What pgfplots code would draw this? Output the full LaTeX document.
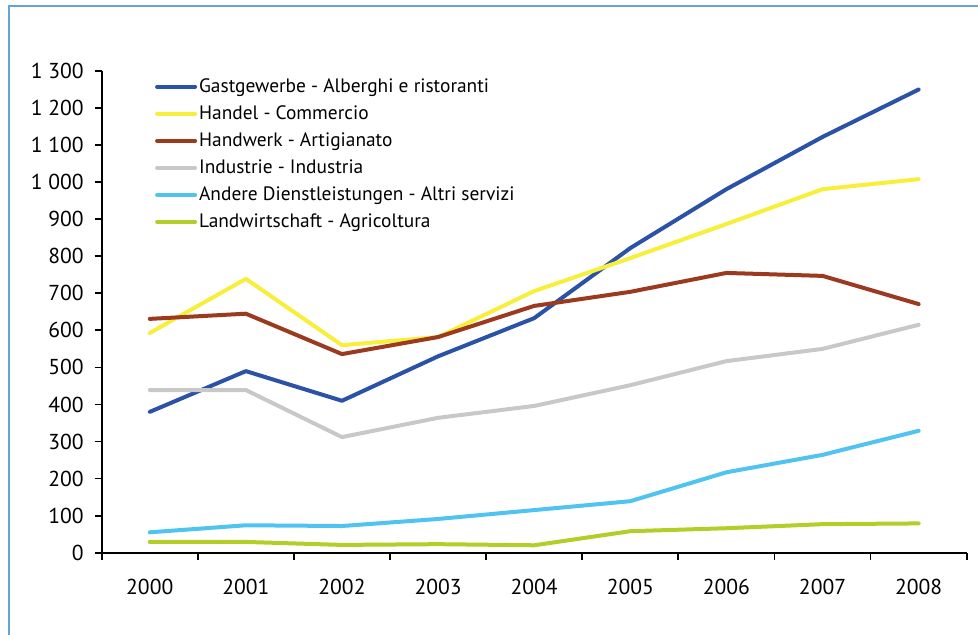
\documentclass[border=0pt]{standalone}
\usepackage{fontspec}
\setmainfont{PT Sans}
\usepackage{pgfplots}
\pgfplotsset{compat=1.18}
\definecolor{cBlue}{RGB}{42,82,166}
\definecolor{cYellow}{RGB}{248,238,60}
\definecolor{cBrown}{RGB}{155,58,30}
\definecolor{cGrey}{RGB}{200,200,200}
\definecolor{cCyan}{RGB}{80,195,240}
\definecolor{cGreen}{RGB}{180,205,40}
\definecolor{frameblue}{RGB}{100,165,215}
\begin{document}
\fontsize{10}{12}\selectfont
\begin{tikzpicture}[x=1pt,y=1pt]
\useasboundingbox (-50.85,-41.15) rectangle (438.15,276.35);
\draw[color=frameblue, line width=0.6pt] (-46.35,-80) rectangle (480,273.35);
\begin{axis}[at={(0,0)}, anchor=south west, scale only axis,
  width=432.5pt, height=240.85pt,
  xmin=-0.5, xmax=8.5, ymin=0, ymax=1300,
  axis x line*=bottom, axis y line*=left,
  axis line style={black, line width=0.9pt},
  every tick/.style={black, line width=0.9pt},
  tick align=outside,
  xtick={0,...,8},
  xticklabels={2000,2001,2002,2003,2004,2005,2006,2007,2008},
  minor xtick={-0.5,0.5,...,8.5},
  major x tick style={draw=none},
  major tick length=3.5pt,
  minor tick length=3.5pt,
  ytick={0,100,...,1300},
  /pgf/number format/assume math mode=true,
  /pgf/number format/1000 sep={\ },
  xticklabel style={font=\fontsize{10.8}{12}\selectfont, yshift=-6pt},
  yticklabel style={font=\fontsize{10.8}{12}\selectfont, xshift=-2pt},
  legend style={at={(rel axis cs:0.0613,1)}, anchor=north west, draw=none, fill=none,
    inner sep=0pt, yshift=-2pt, font=\fontsize{9.7}{12}\selectfont,
    nodes={inner sep=1pt, text height=7.5pt, text depth=2pt},
    row sep=2pt},
  legend cell align=left,
  legend image code/.code={\draw[#1,line cap=round] (0pt,0pt) -- (19pt,0pt);},
  every axis plot/.append style={line width=2pt, line join=round, line cap=round},
]
\addplot[cBlue] coordinates {(0,380)(1,490)(2,410)(3,530)(4,633)(5,822)(6,981)(7,1122)(8,1250)};
\addlegendentry{Gastgewerbe - Alberghi e ristoranti}
\addplot[cYellow] coordinates {(0,593)(1,739)(2,560)(3,582)(4,706)(5,795)(6,887)(7,981)(8,1008)};
\addlegendentry{Handel - Commercio}
\addplot[cBrown] coordinates {(0,631)(1,645)(2,536)(3,582)(4,666)(5,704)(6,755)(7,747)(8,671)};
\addlegendentry{Handwerk - Artigianato}
\addplot[cGrey] coordinates {(0,439)(1,439)(2,312)(3,364)(4,396)(5,452)(6,517)(7,550)(8,615)};
\addlegendentry{Industrie - Industria}
\addplot[cCyan] coordinates {(0,55)(1,74)(2,72)(3,91)(4,115)(5,139)(6,217)(7,264)(8,329)};
\addlegendentry{Andere Dienstleistungen - Altri servizi}
\addplot[cGreen] coordinates {(0,29)(1,29)(2,21)(3,23)(4,20)(5,58)(6,66)(7,77)(8,79)};
\addlegendentry{Landwirtschaft - Agricoltura}
\end{axis}
\end{tikzpicture}
\end{document}
